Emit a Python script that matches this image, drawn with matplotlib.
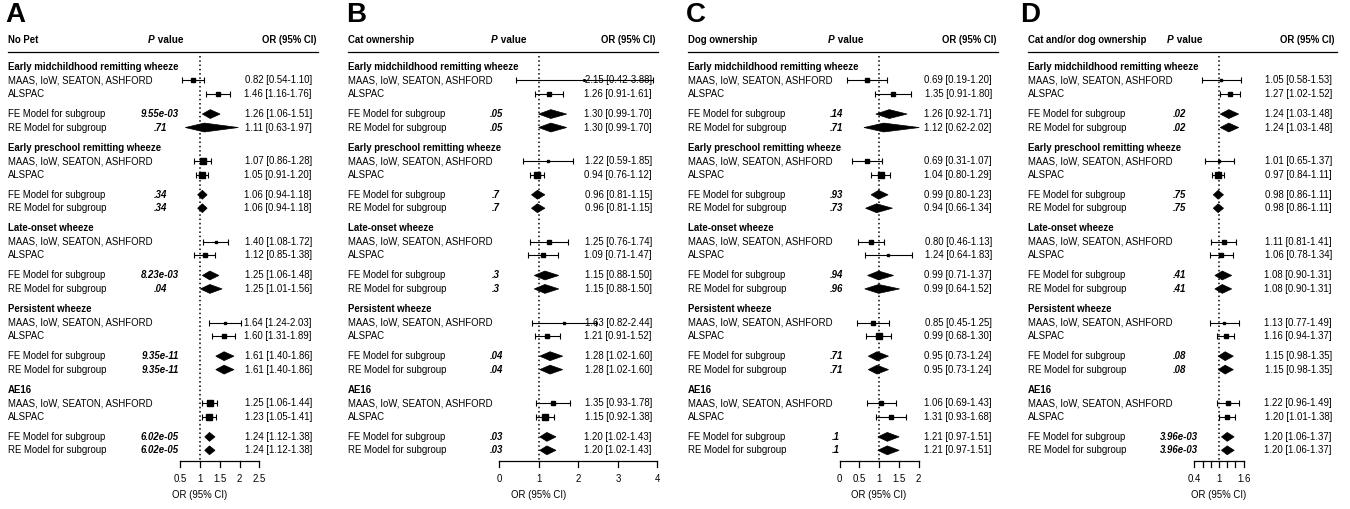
import numpy as np
import matplotlib
matplotlib.use("Agg")
import matplotlib.pyplot as plt
from matplotlib.patches import Polygon

plt.rcParams['font.family'] = ['Liberation Sans', 'DejaVu Sans']

# ---- data -------------------------------------------------------------
groups = ["Early midchildhood remitting wheeze", "Early preschool remitting wheeze",
          "Late-onset wheeze", "Persistent wheeze", "AE16"]
studies = ["MAAS, IoW, SEATON, ASHFORD", "ALSPAC"]
models = ["FE Model for subgroup", "RE Model for subgroup"]
letters = ["A", "B", "C", "D"]
exposures = ["No Pet", "Cat ownership", "Dog ownership", "Cat and/or dog ownership"]

# per group: MAAS, ALSPAC, FE, RE
a_est = [0.82, 1.46, 1.26, 1.11, 1.07, 1.05, 1.06, 1.06, 1.40, 1.12, 1.25, 1.25,
         1.64, 1.60, 1.61, 1.61, 1.25, 1.23, 1.24, 1.24]
a_lo = [0.54, 1.16, 1.06, 0.63, 0.86, 0.91, 0.94, 0.94, 1.08, 0.85, 1.06, 1.01,
        1.24, 1.31, 1.40, 1.40, 1.06, 1.05, 1.12, 1.12]
a_hi = [1.10, 1.76, 1.51, 1.97, 1.28, 1.20, 1.18, 1.18, 1.72, 1.38, 1.48, 1.56,
        2.03, 1.89, 1.86, 1.86, 1.44, 1.41, 1.38, 1.38]
a_p = ["9.55e-03", ".71", ".34", ".34", "8.23e-03", ".04", "9.35e-11", "9.35e-11",
       "6.02e-05", "6.02e-05"]
a_wt = [3, 3, 5, 5, 2, 3, 2, 3, 5, 5]
a_ticks = [0.5, 1, 1.5, 2, 2.5]
a_ticklabels = ["0.5", "1", "1.5", "2", "2.5"]

b_est = [2.15, 1.26, 1.30, 1.30, 1.22, 0.94, 0.96, 0.96, 1.25, 1.09, 1.15, 1.15,
         1.63, 1.21, 1.28, 1.28, 1.35, 1.15, 1.20, 1.20]
b_lo = [0.42, 0.91, 0.99, 0.99, 0.59, 0.76, 0.81, 0.81, 0.76, 0.71, 0.88, 0.88,
        0.82, 0.91, 1.02, 1.02, 0.93, 0.92, 1.02, 1.02]
b_hi = [3.88, 1.61, 1.70, 1.70, 1.85, 1.12, 1.15, 1.15, 1.74, 1.47, 1.50, 1.50,
        2.44, 1.52, 1.60, 1.60, 1.78, 1.38, 1.43, 1.43]
b_p = [".05", ".05", ".7", ".7", ".3", ".3", ".04", ".04", ".03", ".03"]
b_wt = [1.5, 4, 2, 5, 3, 3, 2, 4, 3, 5]
b_ticks = [0, 1, 2, 3, 4]
b_ticklabels = ["0", "1", "2", "3", "4"]

c_est = [0.69, 1.35, 1.26, 1.12, 0.69, 1.04, 0.99, 0.94, 0.80, 1.24, 0.99, 0.99,
         0.85, 0.99, 0.95, 0.95, 1.06, 1.31, 1.21, 1.21]
c_lo = [0.19, 0.91, 0.92, 0.62, 0.31, 0.80, 0.80, 0.66, 0.46, 0.64, 0.71, 0.64,
        0.45, 0.68, 0.73, 0.73, 0.69, 0.93, 0.97, 0.97]
c_hi = [1.20, 1.80, 1.71, 2.02, 1.07, 1.29, 1.23, 1.34, 1.13, 1.83, 1.37, 1.52,
        1.25, 1.30, 1.24, 1.24, 1.43, 1.68, 1.51, 1.51]
c_p = [".14", ".71", ".93", ".73", ".94", ".96", ".71", ".71", ".1", ".1"]
c_wt = [3, 3, 3, 5, 4, 2, 3, 5, 3, 4]
c_ticks = [0, 0.5, 1, 1.5, 2]
c_ticklabels = ["0", "0.5", "1", "1.5", "2"]

d_est = [1.05, 1.27, 1.24, 1.24, 1.01, 0.97, 0.98, 0.98, 1.11, 1.06, 1.08, 1.08,
         1.13, 1.16, 1.15, 1.15, 1.22, 1.20, 1.20, 1.20]
d_lo = [0.58, 1.02, 1.03, 1.03, 0.65, 0.84, 0.86, 0.86, 0.81, 0.78, 0.90, 0.90,
        0.77, 0.94, 0.98, 0.98, 0.96, 1.01, 1.06, 1.06]
d_hi = [1.53, 1.52, 1.48, 1.48, 1.37, 1.11, 1.11, 1.11, 1.41, 1.34, 1.31, 1.31,
        1.49, 1.37, 1.35, 1.35, 1.49, 1.38, 1.37, 1.37]
d_p = [".02", ".02", ".75", ".75", ".41", ".41", ".08", ".08", "3.96e-03", "3.96e-03"]
d_wt = [2, 4, 2, 5, 3, 3, 2, 4, 3, 4]
d_ticks = [0.4, 0.6, 0.8, 1.0, 1.2, 1.4, 1.6]
d_ticklabels = ["0.4", "", "", "1", "", "", "1.6"]

panels = [
    (a_est, a_lo, a_hi, a_p, a_wt, a_ticks, a_ticklabels),
    (b_est, b_lo, b_hi, b_p, b_wt, b_ticks, b_ticklabels),
    (c_est, c_lo, c_hi, c_p, c_wt, c_ticks, c_ticklabels),
    (d_est, d_lo, d_hi, d_p, d_wt, d_ticks, d_ticklabels),
]

# ---- layout (pixels) ---------------------------------------------------
# px0, px1, px of OR=1, px per unit, label x, p x, "P value" x, CI right, header right, rule right, letter x
layout = [
    (0, 340, 200, 39.5, 8, 160, 148, 312, 317, 318, 5),
    (340, 680, 539, 39.5, 348, 496, 491, 652, 656, 658, 346),
    (680, 1010, 879, 39.5, 688, 836, 828, 992, 997, 998, 686),
    (1010, 1350, 1219, 41, 1028, 1179, 1167, 1332, 1335, 1337, 1020),
]

W, H = 1350, 509
ROW = 13.45
Y0 = 67
FS = 6.9

fig = plt.figure(figsize=(W / 100, H / 100), dpi=100)

for i, (est, lo, hi, pv, wt, ticks, ticklabels) in enumerate(panels):
    px0, px1, pxc, s, lab_x, p_x, ph_x, ci_r, orh_r, ln_r, let_x = layout[i]
    ax = fig.add_axes([px0 / W, 0, (px1 - px0) / W, 1])
    ax.set_xlim(1 + (px0 - pxc) / s, 1 + (px1 - pxc) / s)
    ax.set_ylim((H - Y0) / ROW, -Y0 / ROW)
    ax.axis('off')

    def X(px):
        return 1 + (px - pxc) / s

    # panel letter and header
    ax.text(X(let_x), -3.85, letters[i], fontsize=20, fontweight='bold', ha='left', va='center')
    ax.text(X(lab_x), -2.0, exposures[i], fontsize=FS, fontweight='bold', ha='left', va='center')
    tp = ax.text(X(ph_x), -2.0, "P", fontsize=FS + 0.3, fontweight='bold', style='italic',
                 ha='left', va='center')
    ax.annotate(" value", xy=(1, 0), xycoords=tp, fontsize=FS + 0.3, fontweight='bold',
                ha='left', va='bottom')
    ax.text(X(orh_r), -2.0, "OR (95% CI)", fontsize=FS, fontweight='bold', ha='right', va='center')
    ax.plot([X(lab_x), X(ln_r)], [-1.1, -1.1], color='black', lw=0.9)

    # reference line
    ax.plot([1, 1], [-0.85, 29.3], color='black', lw=1.1, ls=(0, (1, 1.8)), zorder=1)

    for g, name in enumerate(groups):
        y0 = 6 * g
        ax.text(X(lab_x), y0, name, fontsize=FS, fontweight='bold', ha='left', va='center')
        for k in range(2):
            j = 4 * g + k
            y = y0 + 1 + k
            ax.text(X(lab_x), y, studies[k], fontsize=FS, ha='left', va='center')
            ax.text(X(ci_r), y, f"{est[j]:.2f} [{lo[j]:.2f}-{hi[j]:.2f}]", fontsize=FS,
                    ha='right', va='center', zorder=2)
            ax.errorbar(est[j], y, xerr=[[est[j] - lo[j]], [hi[j] - est[j]]], fmt='s',
                        color='black', ms=wt[2 * g + k] * 0.75, elinewidth=0.8,
                        capsize=2.2, capthick=0.8, zorder=3)
        for k in range(2):
            j = 4 * g + 2 + k
            y = y0 + 3.5 + k
            ax.text(X(lab_x), y, models[k], fontsize=FS, ha='left', va='center')
            ax.text(X(p_x), y, pv[2 * g + k], fontsize=FS, fontweight='bold', style='italic',
                    ha='center', va='center')
            ax.text(X(ci_r), y, f"{est[j]:.2f} [{lo[j]:.2f}-{hi[j]:.2f}]", fontsize=FS,
                    ha='right', va='center')
            h = 0.33
            ax.add_patch(Polygon([(lo[j], y), (est[j], y - h), (hi[j], y), (est[j], y + h)],
                                 closed=True, facecolor='black', edgecolor='black', lw=0.5,
                                 zorder=3))

    # x axis
    ax.plot([ticks[0], ticks[-1]], [29.3, 29.3], color='black', lw=0.9)
    for t, tl in zip(ticks, ticklabels):
        ax.plot([t, t], [29.3, 29.75], color='black', lw=0.9)
        if tl:
            ax.text(t, 30.6, tl, fontsize=FS, ha='center', va='center')
    ax.text(1, 31.85, "OR (95% CI)", fontsize=FS, ha='center', va='center')

fig.savefig("out.png", dpi=100, facecolor='white')
